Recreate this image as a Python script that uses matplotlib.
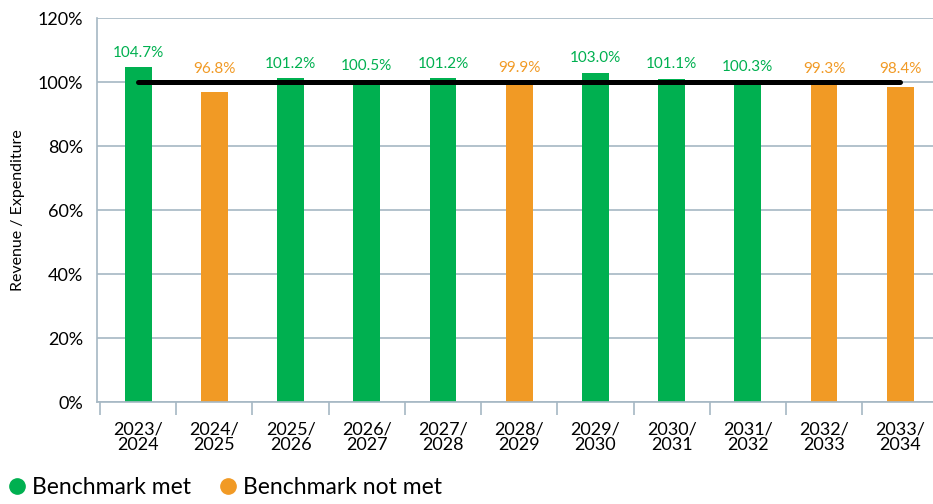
import numpy as np
import matplotlib.pyplot as plt
from matplotlib.lines import Line2D

plt.rcParams['font.family'] = ['Lato', 'DejaVu Sans']

# data
years = ['2023/\n2024', '2024/\n2025', '2025/\n2026', '2026/\n2027', '2027/\n2028',
         '2028/\n2029', '2029/\n2030', '2030/\n2031', '2031/\n2032', '2032/\n2033',
         '2033/\n2034']
ratio = [104.7, 96.8, 101.2, 100.5, 101.2, 99.9, 103.0, 101.1, 100.3, 99.3, 98.4]
benchmark = 100

green = '#00b050'
orange = '#f19a25'
grid_col = '#a6b8c4'

colors = [green if v >= benchmark else orange for v in ratio]
x = np.arange(len(years))

fig = plt.figure(figsize=(9.33, 5.04), dpi=100)
ax = fig.add_axes([0.104, 0.202, 0.896, 0.762])

ax.bar(x, ratio, width=0.35, color=colors, zorder=2)
ax.plot([x[0], x[-1]], [benchmark, benchmark], color='black', lw=3.6,
        solid_capstyle='round', zorder=3)

# labels sit above the bar or above the benchmark line, whichever is higher
for xi, v, c in zip(x, ratio, colors):
    ax.text(xi, max(v, 99.6) + 3.3, '%.1f%%' % v, ha='center', va='baseline',
            color=c, fontsize=11)

ax.set_xlim(-0.54, len(years) - 0.57)
ax.set_ylim(0, 120)
ax.set_yticks(np.arange(0, 121, 20))
ax.set_yticklabels(['%d%%' % t for t in range(0, 121, 20)], fontsize=13)
ax.yaxis.grid(True, color=grid_col, lw=1.2, zorder=0)
ax.tick_params(axis='y', length=0, pad=10)

ax.set_xticks(x)
ax.set_xticklabels(years, fontsize=13, linespacing=0.95)
ax.set_xticks(np.arange(-0.5, len(years) - 1, 1), minor=True)
ax.tick_params(axis='x', which='major', length=0, pad=14)
ax.tick_params(axis='x', which='minor', length=9, color=grid_col, width=1.2)

for s in ['top', 'right']:
    ax.spines[s].set_visible(False)
ax.spines['left'].set_color(grid_col)
ax.spines['bottom'].set_color(grid_col)
ax.spines['left'].set_linewidth(1.2)
ax.spines['bottom'].set_linewidth(1.2)

ax.set_ylabel('Revenue / Expenditure', fontsize=11.5, labelpad=9)

handles = [Line2D([], [], marker='o', ls='', color=green, markersize=11),
           Line2D([], [], marker='o', ls='', color=orange, markersize=11)]
fig.legend(handles, ['Benchmark met', 'Benchmark not met'], loc='lower left',
           bbox_to_anchor=(-0.019, -0.03), ncol=2, frameon=False, fontsize=16.5,
           handletextpad=0.05, columnspacing=1.05, handlelength=1.2)

plt.savefig('out.png', dpi=100)
